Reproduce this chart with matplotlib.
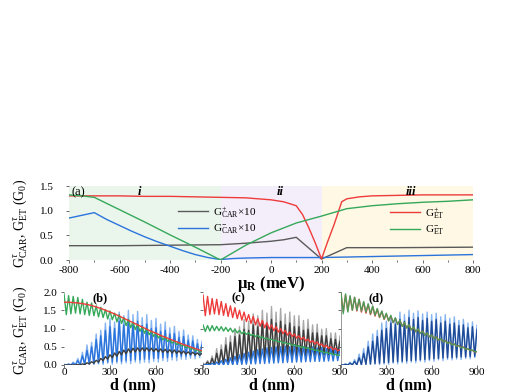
import numpy as np
import matplotlib
matplotlib.use("Agg")
import matplotlib.pyplot as plt

plt.rcParams['font.family'] = ['Liberation Serif', 'DejaVu Serif']
plt.rcParams['mathtext.fontset'] = 'custom'
plt.rcParams['mathtext.rm'] = 'Liberation Serif'
plt.rcParams['mathtext.it'] = 'Liberation Serif:italic'
plt.rcParams['mathtext.bf'] = 'Liberation Serif:bold'
plt.rcParams['axes.unicode_minus'] = False

# ---------------- panel (a) data ----------------
mu_et_p = [-800, -700, -600, -500, -400, -300, -200, -100, -50, 0, 50, 100, 125, 150, 175, 200, 225, 250, 280, 300, 350, 400, 500, 600, 700, 800]
g_et_p = [1.30, 1.30, 1.30, 1.29, 1.29, 1.28, 1.27, 1.26, 1.24, 1.22, 1.18, 1.10, 0.92, 0.65, 0.35, 0.02, 0.38, 0.72, 1.18, 1.24, 1.28, 1.30, 1.31, 1.32, 1.32, 1.32]

mu_et_m = [-800, -750, -700, -600, -500, -400, -300, -200, -100, 0, 100, 200, 300, 400, 500, 600, 700, 800]
g_et_m = [1.32, 1.30, 1.27, 1.02, 0.77, 0.51, 0.26, 0.00, 0.30, 0.55, 0.75, 0.89, 1.04, 1.10, 1.14, 1.17, 1.19, 1.22]

mu_car_p = [-800, -600, -400, -200, -100, 0, 50, 100, 200, 300, 500, 800]
g_car_p = [0.29, 0.29, 0.30, 0.31, 0.34, 0.38, 0.41, 0.46, 0.02, 0.25, 0.25, 0.26]

mu_car_m = [-800, -700, -650, -600, -550, -500, -450, -400, -350, -300, -250, -200, -150, -100, 0, 200, 300, 400, 600, 800]
g_car_m = [0.85, 0.96, 0.82, 0.70, 0.58, 0.47, 0.37, 0.28, 0.19, 0.11, 0.05, 0.01, 0.03, 0.04, 0.05, 0.05, 0.06, 0.07, 0.09, 0.11]

region_edges = [-800, -200, 200, 800]
region_names = ['i', 'ii', 'iii']
region_colors = ['#eaf6ec', '#f4eefa', '#fef8e4']

# ---------------- panels (b)-(d) data (peaks at d_pk, troughs between) ----------------
d_pk = list(range(0, 901, 30))

b_red = [1.72,1.72,1.71,1.70,1.68,1.66,1.63,1.59,1.55,1.50,1.45,1.40,1.34,1.28,1.22,1.16,1.10,1.04,0.98,0.92,0.87,0.81,0.76,0.71,0.66,0.61,0.56,0.52,0.47,0.43,0.39]
b_green_pk = [1.95,1.90,1.88,1.85,1.80,1.72,1.70,1.62,1.58,1.52,1.48,1.42,1.38,1.30,1.25,1.18,1.12,1.05,1.00,0.93,0.88,0.82,0.77,0.71,0.66,0.61,0.56,0.51,0.46,0.42,0.38]
b_green_tr = [1.38,1.40,1.42,1.40,1.38,1.36,1.35,1.32,1.30,1.26,1.24,1.18,1.14,1.08,1.02,0.97,0.92,0.87,0.83,0.78,0.74,0.69,0.65,0.60,0.56,0.52,0.47,0.43,0.39,0.35,0.31]
b_blue_l_pk = [0.02,0.03,0.08,0.18,0.35,0.55,0.62,0.85,0.95,1.15,1.28,1.18,1.45,1.35,1.50,1.38,1.47,1.30,1.38,1.22,1.28,1.12,1.18,1.02,1.06,0.92,0.96,0.82,0.80,0.70,0.66]
b_blue_l_tr = [0.0,0.0,0.0,0.0,0.0,0.02,0.0,0.03,0.0,0.05,0.02,0.05,0.03,0.06,0.04,0.08,0.05,0.08,0.06,0.10,0.08,0.12,0.10,0.14,0.12,0.16,0.15,0.18,0.17,0.20,0.20]
b_blue_d_pk = [0.0,0.02,0.05,0.12,0.25,0.40,0.50,0.70,0.80,0.95,1.05,1.00,1.20,1.10,1.25,1.15,1.20,1.08,1.12,1.00,1.02,0.92,0.95,0.85,0.86,0.76,0.78,0.68,0.66,0.58,0.55]
b_blue_d_tr = [0.0,0.0,0.0,0.0,0.02,0.03,0.04,0.05,0.06,0.08,0.08,0.10,0.10,0.12,0.12,0.14,0.14,0.16,0.16,0.18,0.18,0.20,0.20,0.22,0.22,0.24,0.24,0.25,0.25,0.26,0.26]
b_gray_pk = [0.0,0.0,0.0,0.01,0.03,0.06,0.09,0.13,0.18,0.23,0.28,0.33,0.37,0.41,0.44,0.46,0.47,0.47,0.47,0.46,0.45,0.44,0.43,0.42,0.41,0.39,0.38,0.36,0.35,0.33,0.32]
b_gray_tr = [0.0,0.0,0.0,0.0,0.01,0.03,0.05,0.08,0.12,0.16,0.20,0.24,0.28,0.31,0.34,0.36,0.37,0.38,0.38,0.37,0.36,0.35,0.34,0.33,0.32,0.31,0.30,0.29,0.28,0.27,0.26]

c_red_pk = [1.92,1.88,1.82,1.80,1.74,1.68,1.62,1.57,1.50,1.45,1.38,1.33,1.27,1.22,1.16,1.10,1.05,1.00,0.95,0.90,0.85,0.80,0.76,0.71,0.67,0.63,0.58,0.54,0.50,0.46,0.42]
c_red_tr = [1.35,1.38,1.40,1.38,1.36,1.33,1.30,1.27,1.23,1.19,1.14,1.10,1.06,1.02,0.98,0.94,0.90,0.86,0.82,0.78,0.74,0.70,0.66,0.62,0.58,0.54,0.50,0.46,0.42,0.39,0.35]
c_green_pk = [1.10,1.08,1.08,1.06,1.05,1.03,1.01,0.98,0.95,0.91,0.88,0.84,0.81,0.77,0.74,0.71,0.68,0.65,0.62,0.59,0.56,0.53,0.50,0.47,0.44,0.41,0.38,0.35,0.32,0.29,0.27]
c_green_tr = [0.92,0.93,0.94,0.94,0.93,0.92,0.90,0.88,0.86,0.84,0.81,0.78,0.75,0.72,0.69,0.66,0.63,0.60,0.57,0.54,0.51,0.48,0.46,0.43,0.40,0.37,0.34,0.32,0.29,0.26,0.24]
c_gray_l_pk = [0.05,0.12,0.25,0.45,0.55,0.75,0.80,1.00,1.05,1.25,1.20,1.40,1.35,1.50,1.42,1.60,1.45,1.55,1.40,1.45,1.35,1.35,1.22,1.25,1.10,1.12,0.98,1.00,0.88,0.88,0.80]
c_gray_l_tr = [0.0,0.0,0.0,0.0,0.0,0.02,0.0,0.04,0.02,0.05,0.04,0.07,0.06,0.10,0.08,0.12,0.10,0.14,0.12,0.16,0.15,0.18,0.17,0.20,0.20,0.22,0.22,0.24,0.24,0.26,0.26]
c_gray_d_pk = [0.02,0.08,0.18,0.32,0.42,0.55,0.62,0.78,0.82,0.98,0.95,1.10,1.05,1.20,1.12,1.25,1.15,1.20,1.10,1.15,1.05,1.05,0.95,0.98,0.88,0.88,0.80,0.80,0.72,0.70,0.66]
c_gray_d_tr = [0.0,0.0,0.0,0.02,0.03,0.04,0.05,0.06,0.08,0.10,0.10,0.12,0.14,0.15,0.16,0.18,0.20,0.20,0.22,0.22,0.24,0.24,0.25,0.26,0.26,0.27,0.28,0.28,0.29,0.30,0.30]
c_blue_pk = [0.0,0.02,0.05,0.08,0.12,0.16,0.20,0.24,0.28,0.32,0.35,0.38,0.42,0.44,0.47,0.48,0.50,0.50,0.52,0.50,0.52,0.50,0.50,0.48,0.50,0.47,0.48,0.45,0.46,0.44,0.45]
c_blue_tr = [0.0,0.0,0.0,0.0,0.0,0.0,0.01,0.01,0.02,0.02,0.03,0.03,0.04,0.04,0.05,0.05,0.06,0.06,0.07,0.07,0.08,0.08,0.09,0.09,0.10,0.10,0.10,0.11,0.11,0.12,0.12]

d_red_pk = [1.95,1.92,1.88,1.85,1.80,1.72,1.66,1.60,1.53,1.47,1.40,1.34,1.28,1.22,1.16,1.10,1.04,0.98,0.93,0.87,0.82,0.77,0.72,0.67,0.62,0.57,0.53,0.49,0.44,0.40,0.36]
d_red_tr = [1.45,1.48,1.50,1.48,1.45,1.42,1.38,1.34,1.30,1.25,1.21,1.16,1.11,1.06,1.01,0.96,0.91,0.87,0.82,0.77,0.73,0.68,0.64,0.60,0.56,0.52,0.48,0.44,0.40,0.36,0.32]
d_green_pk = [1.98,1.95,1.90,1.86,1.80,1.74,1.68,1.62,1.55,1.48,1.42,1.36,1.29,1.23,1.17,1.11,1.05,0.99,0.93,0.88,0.82,0.77,0.72,0.67,0.62,0.58,0.53,0.49,0.45,0.41,0.37]
d_green_tr = [1.40,1.45,1.50,1.50,1.48,1.45,1.40,1.36,1.31,1.26,1.21,1.16,1.11,1.06,1.01,0.96,0.91,0.86,0.81,0.77,0.72,0.68,0.64,0.59,0.55,0.51,0.47,0.43,0.39,0.36,0.32]
d_blue_l_pk = [0.0,0.03,0.08,0.15,0.30,0.45,0.65,0.85,0.95,1.15,1.20,1.35,1.30,1.45,1.38,1.50,1.42,1.48,1.40,1.45,1.38,1.42,1.32,1.38,1.28,1.32,1.22,1.25,1.15,1.18,1.10]
d_blue_l_tr = [0.0,0.0,0.0,0.0,0.0,0.0,0.0,0.02,0.0,0.03,0.02,0.05,0.03,0.06,0.05,0.08,0.06,0.10,0.08,0.12,0.10,0.14,0.12,0.15,0.14,0.16,0.15,0.18,0.17,0.20,0.20]
d_blue_d_pk = [0.0,0.02,0.05,0.10,0.20,0.32,0.50,0.65,0.78,0.95,1.00,1.15,1.12,1.25,1.20,1.30,1.25,1.30,1.22,1.28,1.20,1.25,1.15,1.20,1.12,1.15,1.08,1.10,1.02,1.05,0.98]
d_blue_d_tr = [0.0,0.0,0.0,0.0,0.01,0.02,0.03,0.04,0.05,0.06,0.07,0.08,0.09,0.10,0.11,0.12,0.13,0.14,0.15,0.16,0.17,0.18,0.19,0.20,0.20,0.21,0.22,0.22,0.23,0.24,0.24]

# colors
C_RED = '#ee3b3b'
C_GREEN = '#35a85a'
C_BLUE = '#2b74dc'
C_BLUE_L = '#86b4f0'
C_NAVY = '#1f4a96'
C_GRAY = '#5a5a5a'
C_GRAY_L = '#a8a8a8'
C_GRAY_D = '#3c3c3c'

W, H = 523, 392
fig = plt.figure(figsize=(W / 100, H / 100), dpi=100)

def fx(px):
    return px / W

def fy(py):
    return 1 - py / H

# ---------------- panel (a) ----------------
axa = fig.add_axes([fx(69), fy(260), fx(473) - fx(69), fy(186) - fy(260)])
for k in range(3):
    axa.axvspan(region_edges[k], region_edges[k + 1], color=region_colors[k], lw=0, zorder=0)
axa.plot(mu_car_p, g_car_p, color=C_GRAY, lw=1.0, label=r'G$^{+}_{\rm CAR}$×10')
axa.plot(mu_car_m, g_car_m, color=C_BLUE, lw=1.0, label=r'G$^{-}_{\rm CAR}$×10')
axa.plot(mu_et_p, g_et_p, color=C_RED, lw=1.0, label=r'G$^{+}_{\rm ET}$')
axa.plot(mu_et_m, g_et_m, color=C_GREEN, lw=1.0, label=r'G$^{-}_{\rm ET}$')
axa.set_xlim(-800, 800)
axa.set_ylim(0, 1.5)
axa.set_xticks(range(-800, 801, 200))
axa.set_xticks(range(-700, 800, 200), minor=True)
axa.set_yticks([0.0, 0.5, 1.0, 1.5])
axa.set_yticklabels(['0.0', '0.5', '1.0', '1.5'])
for s in axa.spines.values():
    s.set_visible(False)
axa.tick_params(axis='both', which='major', labelsize=8, length=2, width=0.6, color='#555555')
axa.tick_params(axis='y', pad=9)
axa.tick_params(axis='x', pad=2)
axa.tick_params(which='minor', length=1.5, width=0.6, color='#555555')
h, lab = axa.get_legend_handles_labels()
leg1 = axa.legend(h[:2], lab[:2], loc='center left', bbox_to_anchor=(0.27, 0.53), frameon=False,
                  fontsize=8, handlelength=2.7, handletextpad=0.4, labelspacing=0.25,
                  borderpad=0, borderaxespad=0)
axa.add_artist(leg1)
axa.legend(h[2:], lab[2:], loc='center left', bbox_to_anchor=(0.795, 0.52), frameon=False,
           fontsize=8, handlelength=2.7, handletextpad=0.4, labelspacing=0.25,
           borderpad=0, borderaxespad=0)
region_x = [-520, 35, 555]
for name, xr in zip(region_names, region_x):
    axa.text(xr, 1.38, name, fontsize=9, style='italic', fontweight='bold', ha='center', va='center')
axa.text(-790, 1.38, '(a)', fontsize=9, ha='left', va='center')

fig.text(fx(20), fy(223), r'G$^{τ}_{\rm CAR}$, G$^{τ}_{\rm ET}$ (G$_0$)', rotation=90,
         ha='center', va='center', fontsize=10)
fig.text(fx(271), fy(284), r'μ$_{\bf R}$ (meV)', ha='center', va='center', fontsize=12, fontweight='bold')

# ---------------- panels (b)-(d) ----------------
def zigzag(ax, pk, tr, color, lw=1.0, alpha=1.0, z=2):
    xs, ys = [], []
    for i in range(len(d_pk)):
        xs += [d_pk[i], d_pk[i] + 15]
        ys += [pk[i], tr[i]]
    ax.plot(xs, ys, color=color, lw=lw, alpha=alpha, zorder=z)

lefts = [64, 203, 341]
rights = [202, 340, 477]
axes = []
for i in range(3):
    ax = fig.add_axes([fx(lefts[i]), fy(365), fx(rights[i]) - fx(lefts[i]), fy(292) - fy(365)])
    ax.set_xlim(0, 900)
    ax.set_ylim(0, 2.0)
    ax.set_xticks([0, 300, 600, 900])
    ax.set_yticks([0.0, 0.5, 1.0, 1.5, 2.0])
    for s in ax.spines.values():
        s.set_visible(False)
    ax.tick_params(axis='both', labelsize=8, length=2, width=0.6, color='#555555')
    ax.tick_params(axis='x', pad=0.5)
    ax.tick_params(axis='y', pad=3)
    ax.patch.set_alpha(0)
    axes.append(ax)

axb, axc, axd = axes
axb.set_yticklabels(['0.0', '0.5', '1.0', '1.5', '2.0'])
axb.set_xticklabels(['0', '300', '600', '900'])
for ax in (axc, axd):
    ax.set_yticklabels([])
    ax.set_xticklabels(['', '300', '600', '900'])
axd.spines['left'].set_visible(True)
axd.spines['left'].set_color('#888888')
axd.spines['left'].set_linewidth(0.6)

# (b)
zigzag(axb, b_blue_l_pk, b_blue_l_tr, C_BLUE_L, z=2)
zigzag(axb, b_blue_d_pk, b_blue_d_tr, C_BLUE, z=3)
zigzag(axb, b_green_pk, b_green_tr, C_GREEN, z=4)
zigzag(axb, b_gray_pk, b_gray_tr, C_GRAY_D, lw=1.0, z=5)
axb.plot(d_pk, b_red, color=C_RED, lw=1.0, zorder=6)

# (c)
zigzag(axc, c_gray_l_pk, c_gray_l_tr, C_GRAY_L, z=2)
zigzag(axc, c_gray_d_pk, c_gray_d_tr, C_GRAY_D, z=3)
zigzag(axc, c_blue_pk, c_blue_tr, C_BLUE, z=4)
zigzag(axc, c_green_pk, c_green_tr, C_GREEN, z=5)
zigzag(axc, c_red_pk, c_red_tr, C_RED, z=6)

# (d)
zigzag(axd, d_blue_l_pk, d_blue_l_tr, C_BLUE_L, z=2)
zigzag(axd, d_blue_d_pk, d_blue_d_tr, C_NAVY, z=3)
zigzag(axd, d_red_pk, d_red_tr, C_RED, z=4)
zigzag(axd, d_green_pk, d_green_tr, C_GREEN, alpha=0.85, z=5)

for ax, lab in zip(axes, ['(b)', '(c)', '(d)']):
    ax.text(0.26, 0.91, lab, transform=ax.transAxes, fontsize=9, fontweight='bold', ha='center', va='center', zorder=10)

fig.text(fx(20), fy(330), r'G$^{τ}_{\rm CAR}$, G$^{τ}_{\rm ET}$ (G$_0$)', rotation=90,
         ha='center', va='center', fontsize=10)
for i in range(3):
    fig.text(fx((lefts[i] + rights[i]) / 2), fy(385), 'd (nm)', ha='center', va='center',
             fontsize=11.5, fontweight='bold')

fig.savefig('out.png', dpi=100)
